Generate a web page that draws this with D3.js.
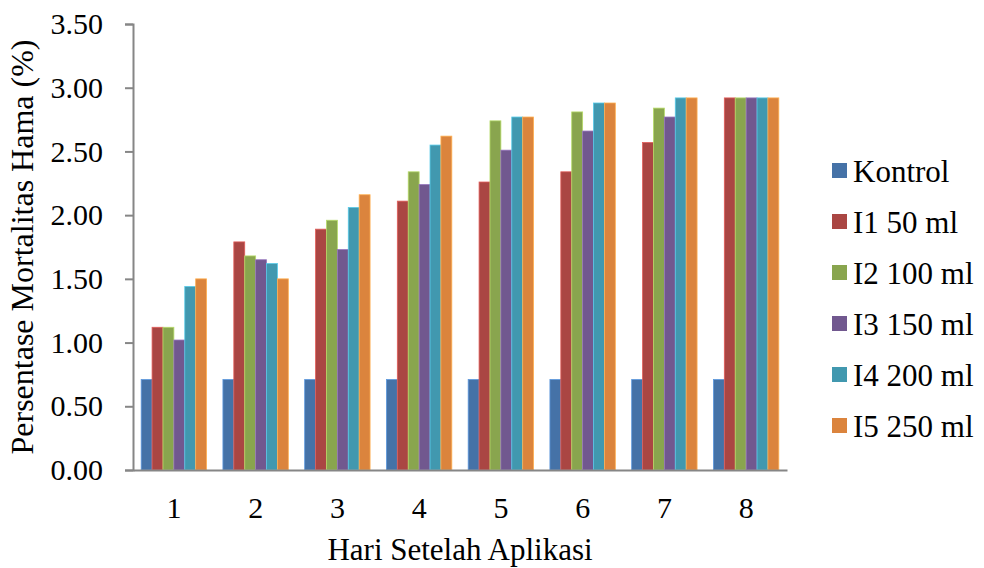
<!DOCTYPE html>
<html><head><meta charset="utf-8">
<script src="https://cdn.jsdelivr.net/npm/d3@7"></script>
<style>body{margin:0;background:#fff}svg{display:block}</style>
</head><body>
<svg id="c" width="984" height="568"></svg>
<script>
const categories = ["1","2","3","4","5","6","7","8"];
const seriesNames = ["Kontrol","I1 50 ml","I2 100 ml","I3 150 ml","I4 200 ml","I5 250 ml"];
const kontrol = [0.71,0.71,0.71,0.71,0.71,0.71,0.71,0.71];
const i1 = [1.12,1.79,1.89,2.11,2.26,2.34,2.57,2.92];
const i2 = [1.12,1.68,1.96,2.34,2.74,2.81,2.84,2.92];
const i3 = [1.02,1.65,1.73,2.24,2.51,2.66,2.77,2.92];
const i4 = [1.44,1.62,2.06,2.55,2.77,2.88,2.92,2.92];
const i5 = [1.50,1.50,2.16,2.62,2.77,2.88,2.92,2.92];
const yTicks = [0,0.5,1,1.5,2,2.5,3,3.5];
const colors = ["#4572A7","#AA4643","#89A54E","#71588F","#4198AF","#DB843D"];
const xTitle = "Hari Setelah Aplikasi";
const yTitle = "Persentase Mortalitas Hama (%)";

const FONT = "'Liberation Serif', 'Times New Roman', serif";
const series = [kontrol,i1,i2,i3,i4,i5];
const svg = d3.select("#c");
const L=133, R=787, T=24, B=470;
const band = (R-L)/categories.length;
const groupW = band*6/7.5;
const xCat = d3.scaleBand().domain(categories).range([L,R]);
const x1 = d3.scaleBand().domain(d3.range(series.length)).range([0,groupW]);
const y = d3.scaleLinear().domain([0,3.5]).range([B,T]);

const g = svg.append("g");
series.forEach((s,si)=>{
  g.selectAll(null).data(s).enter().append("rect")
    .attr("x",(d,i)=>xCat(categories[i])+(band-groupW)/2+x1(si))
    .attr("y",d=>y(d))
    .attr("width",x1.bandwidth())
    .attr("height",d=>B-y(d))
    .attr("fill",colors[si])
    .attr("stroke",d3.color(colors[si]).brighter(0.8))
    .attr("stroke-width",0.8);
});

const yAxis = svg.append("g").attr("transform",`translate(${L},0)`)
  .call(d3.axisLeft(y).tickValues(yTicks).tickFormat(d3.format(".2f")).tickSize(8).tickPadding(22));
yAxis.attr("font-family",null).attr("font-size",null);
yAxis.select(".domain").attr("stroke","#868686").attr("stroke-width",2);
yAxis.selectAll(".tick line").attr("stroke","#868686").attr("stroke-width",2);
yAxis.selectAll(".tick text").style("font-size","30px").style("font-family",FONT).attr("fill","#000").attr("dy","0.32em");

const xAxis = svg.append("g").attr("transform",`translate(0,${B})`)
  .call(d3.axisBottom(xCat).tickSize(0).tickPadding(27).tickSizeOuter(0));
xAxis.attr("font-family",null).attr("font-size",null);
xAxis.select(".domain").attr("stroke","#868686").attr("stroke-width",2);
xAxis.selectAll(".tick text").style("font-size","30px").style("font-family",FONT).attr("fill","#000");

svg.append("text").attr("x",460).attr("y",560).attr("text-anchor","middle")
  .style("font-size","31px").style("font-family",FONT).text(xTitle);
svg.append("text").attr("transform","translate(33,247) rotate(-90)").attr("text-anchor","middle")
  .style("font-size","32px").style("font-family",FONT).text(yTitle);

const leg = svg.append("g");
seriesNames.forEach((n,i)=>{
  const cy = 171 + i*51;
  leg.append("rect").attr("x",832).attr("y",cy-8).attr("width",15).attr("height",15).attr("fill",colors[i]);
  leg.append("text").attr("x",853).attr("y",cy).attr("dy","0.35em")
    .style("font-size","31px").style("font-family",FONT).text(n);
});
</script>
</body></html>
